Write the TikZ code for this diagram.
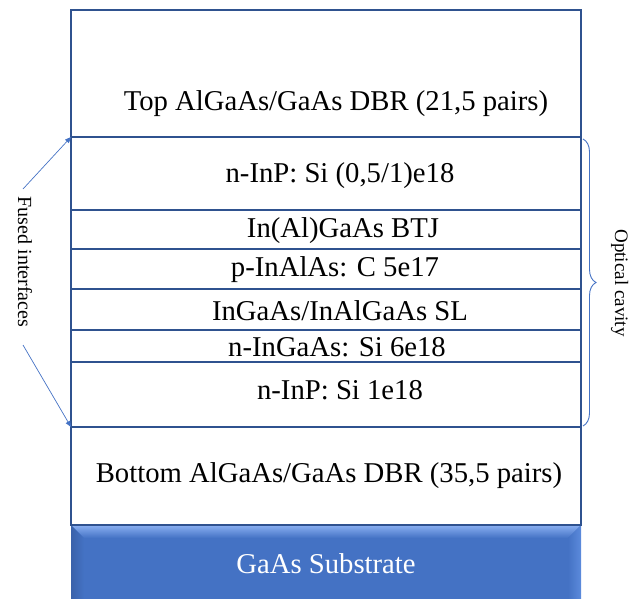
\documentclass[tikz,border=0pt]{standalone}
\usepackage{fontspec}
\setmainfont{Liberation Serif}
\usetikzlibrary{arrows.meta,decorations.pathreplacing}
\definecolor{edge}{HTML}{2F528F}
\definecolor{accent}{HTML}{4472C4}
\definecolor{bevtop}{HTML}{8AB0F2}
\definecolor{bevside}{HTML}{3A62AA}
\definecolor{bevright}{HTML}{5C8BDC}

\tikzset{
  layertext/.style={font=\fontsize{28.7}{31}\selectfont,inner sep=0pt},
  sidetext/.style={font=\fontsize{20}{22}\selectfont,rotate=-90,inner sep=0pt,anchor=base},
  pointer/.style={accent,line width=0.7pt,-{Triangle[length=6pt,width=5pt]}}
}

\begin{document}
\begin{tikzpicture}[x=1pt,y=-1pt]
  \useasboundingbox (0,0) rectangle (629,599);
  % substrate with bevel
  \fill[accent] (71,525) rectangle (581,599);
  \shade[top color=bevtop,bottom color=accent] (71,525) -- (581,525) -- (568,538) -- (84,538) -- cycle;
  \shade[left color=bevside,right color=accent] (71,525) -- (84,538) -- (84,599) -- (71,599) -- cycle;
  \shade[left color=accent,right color=bevright] (581,525) -- (568,538) -- (568,599) -- (581,599) -- cycle;
  \node[layertext,text=white] (subs) at (326,564) {GaAs Substrate};
  % layer stack
  \draw[edge,line width=1.3pt] (71,10) rectangle (581,525);
  \foreach \y in {137,210,249,289,330,362,427} {
    \draw[edge,line width=1.3pt] (71,\y) -- (581,\y);
  }
  \coordinate (ifup) at (71,137);
  \coordinate (ifdown) at (71,427);
  \node[layertext] (topdbr) at (336,104) {Top AlGaAs/GaAs DBR (21,5 pairs)};
  \node[layertext] (inpa) at (340,176) {n-InP: Si (0,5/1)e18};
  \node[layertext] (btj) at (343,231) {In(Al)GaAs BTJ};
  \node[layertext] (inalas) at (335,270) {p-InAlAs: C 5e17};
  \node[layertext] (sl) at (340,311) {InGaAs/InAlGaAs SL};
  \node[layertext] (ingaas) at (337,347) {n-InGaAs: Si 6e18};
  \node[layertext] (inpb) at (340,390) {n-InP: Si 1e18};
  \node[layertext] (botdbr) at (329,476) {Bottom AlGaAs/GaAs DBR (35,5 pairs)};
  % side labels
  \node[sidetext] (fused) at (18,262) {Fused interfaces};
  \coordinate (fusedup) at (23,189);
  \coordinate (fuseddown) at (23,345);
  \draw[pointer] (fusedup) -- (ifup);
  \draw[pointer] (fuseddown) -- (ifdown);
  \draw[accent,line width=0.9pt,decorate,decoration={brace,amplitude=13pt}] (583,139) -- (583,426);
  \node[sidetext,font=\fontsize{19}{21}\selectfont] (cavity) at (615,283) {Optical cavity};
\end{tikzpicture}
\end{document}
